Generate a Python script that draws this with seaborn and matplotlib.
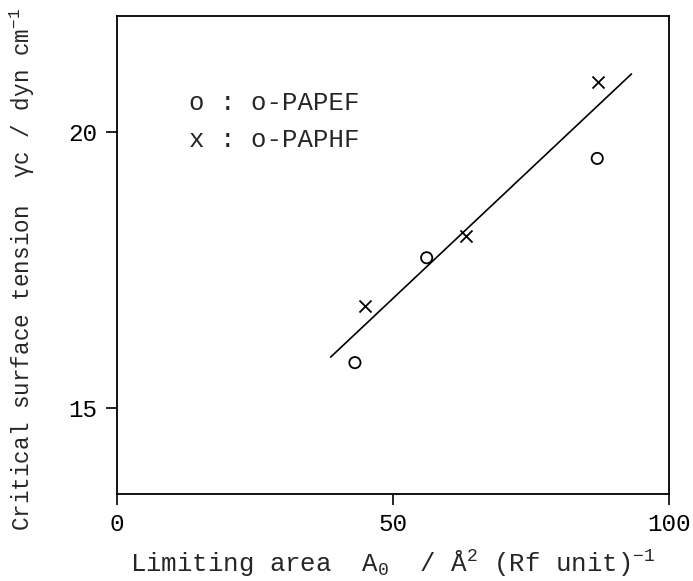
import matplotlib
matplotlib.use("Agg")
import matplotlib.pyplot as plt
import seaborn as sns
import pandas as pd

# data
papef_area = [43.1, 56.1, 87.0]
papef_tension = [15.82, 17.72, 19.52]
paphf_area = [45.0, 63.2, 87.2]
paphf_tension = [16.84, 18.12, 20.91]
fit_area = [38.7, 93.2]
fit_tension = [15.92, 21.05]
x_ticks = [0, 50, 100]
y_ticks = [15, 20]

sns.set_style("ticks")
plt.rcParams["font.family"] = ["Liberation Mono", "DejaVu Sans Mono"]
plt.rcParams["mathtext.fontset"] = "custom"
plt.rcParams["mathtext.rm"] = "Liberation Mono"
plt.rcParams["mathtext.it"] = "Liberation Mono"
plt.rcParams["mathtext.bf"] = "Liberation Mono"
plt.rcParams["mathtext.sf"] = "Liberation Mono"

FS = 18.5

fig = plt.figure(figsize=(6.93, 5.81), dpi=100)
ax = fig.add_axes([117/693, 1-494/581, (669-117)/693, (494-16)/581])

sns.lineplot(x=fit_area, y=fit_tension, color="black", linewidth=1.2, ax=ax)
sns.scatterplot(x=papef_area, y=papef_tension, marker="o", s=65,
                facecolors="none", edgecolors="black", linewidth=1.3, ax=ax)
sns.scatterplot(x=paphf_area, y=paphf_tension, marker="x", s=75,
                color="black", linewidth=1.3, ax=ax)

ax.set_xlim(0, 100)
ax.set_ylim(13.44, 22.1)
ax.set_xticks(x_ticks)
ax.set_yticks(y_ticks)
ax.set_xticklabels([str(v) for v in x_ticks])
ax.set_yticklabels([str(v) for v in y_ticks])
for s in ax.spines.values():
    s.set_visible(True)
    s.set_linewidth(1.3)
    s.set_color("black")
ax.tick_params(direction="out", length=8, width=1.2, colors="black",
               labelsize=17.5, pad=6)

ax.text(0.13, 0.818, "o : o-PAPEF", transform=ax.transAxes, fontsize=FS,
        va="center", ha="left")
ax.text(0.13, 0.741, "x : o-PAPHF", transform=ax.transAxes, fontsize=FS,
        va="center", ha="left")

ax.set_xlabel(r"Limiting area  A$\mathregular{_0}$  / Å$\mathregular{^2}$ (Rf unit)$\mathregular{^{-1}}$",
              fontsize=FS)
ax.xaxis.set_label_coords(0.5, -0.113)
ax.set_ylabel(r"Critical surface tension  γc / dyn cm$\mathregular{^{-1}}$",
              fontsize=16.3, loc="top")
ax.yaxis.set_label_coords(-0.145, 1.017)

fig.savefig("out.png", dpi=100, facecolor="white")
